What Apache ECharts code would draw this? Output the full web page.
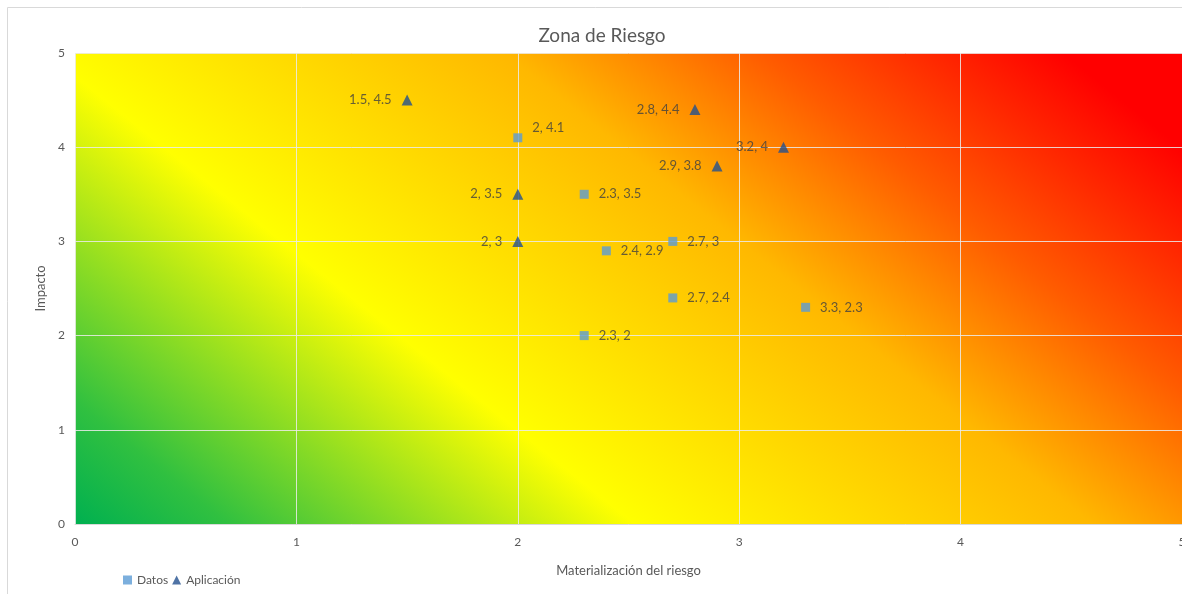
<!DOCTYPE html>
<html>
<head>
<meta charset="utf-8">
<script src="https://cdn.jsdelivr.net/npm/echarts@6/dist/echarts.min.js"></script>
<style>html,body{margin:0;padding:0;background:#fff;}#c{width:1182px;height:594px;}</style>
</head>
<body>
<div id="c"></div>
<script>
var title = 'Zona de Riesgo';
var xName = 'Materialización del riesgo';
var yName = 'Impacto';
var datosX = [2, 2.3, 2.4, 2.7, 2.7, 2.3, 3.3];
var datosY = [4.1, 3.5, 2.9, 3, 2.4, 2, 2.3];
var aplX = [1.5, 2.8, 3.2, 2.9, 2, 2];
var aplY = [4.5, 4.4, 4, 3.8, 3.5, 3];

var gridL = 75, gridT = 53, gridR = 0, gridB = 70;
var W = 1182, H = 594;
var pw = W - gridL - gridR, ph = H - gridT - gridB;
var ky = 1.25;
var k = (pw + ky * ph) / (1 + ky * ky);
var bg = {
  type: 'linear', global: true,
  x: gridL, y: gridT + ph, x2: gridL + k, y2: gridT + ph - ky * k,
  colorStops: [
    {offset: 0, color: '#00b050'},
    {offset: 0.09, color: '#30c040'},
    {offset: 0.33, color: '#ffff00'},
    {offset: 0.60, color: '#ffb800'},
    {offset: 0.75, color: '#ff5c00'},
    {offset: 0.85, color: '#ff2800'},
    {offset: 0.93, color: '#ff0000'},
    {offset: 1, color: '#ff0000'}
  ]
};

function pts(xs, ys) { return xs.map(function (x, i) { return [x, ys[i]]; }); }
var datos = pts(datosX, datosY).map(function (p, i) {
  var item = {value: p};
  if (i === 0) item.label = {offset: [0, -10]};
  return item;
});
var apl = pts(aplX, aplY);
var fmt = function (p) { return p.value[0] + ', ' + p.value[1]; };
var font = 'Lato, "Open Sans", sans-serif';

var chart = echarts.init(document.getElementById('c'));
chart.setOption({
  animation: false,
  textStyle: {fontFamily: font},
  graphic: [{
    type: 'rect', shape: {x: 7.5, y: 7.5, width: 1300, height: 700},
    style: {fill: 'none', stroke: '#d9d9d9', lineWidth: 1}, silent: true, z: -10
  }],
  title: {
    text: title, left: 597, top: 21, textAlign: 'center',
    textStyle: {fontFamily: font, fontSize: 19, fontWeight: 'normal', color: '#595959'}
  },
  legend: {
    left: 118, top: 569, itemWidth: 9, itemHeight: 9, itemGap: 4,
    textStyle: {fontFamily: font, fontSize: 12, color: '#595959'},
    data: [{name: 'Datos', icon: 'rect'}, {name: 'Aplicación', icon: 'triangle'}]
  },
  grid: {
    left: gridL, top: gridT, right: gridR, bottom: gridB,
    outerBoundsMode: 'none', containLabel: false,
    show: true, backgroundColor: bg, borderWidth: 0
  },
  xAxis: {
    type: 'value', min: 0, max: 5, interval: 1,
    name: xName, nameLocation: 'middle', nameGap: 40,
    nameTextStyle: {fontFamily: font, fontSize: 13, color: '#595959'},
    axisLine: {show: true, lineStyle: {color: '#d9d9d9'}},
    axisTick: {show: false},
    axisLabel: {fontFamily: font, fontSize: 12, color: '#595959', margin: 12},
    splitLine: {show: true, lineStyle: {color: 'rgba(235,235,235,0.85)', width: 1}}
  },
  yAxis: {
    type: 'value', min: 0, max: 5, interval: 1,
    name: yName, nameLocation: 'middle', nameGap: 26,
    nameTextStyle: {fontFamily: font, fontSize: 13, color: '#595959'},
    axisLine: {show: false}, axisTick: {show: false},
    axisLabel: {fontFamily: font, fontSize: 12, color: '#595959', margin: 10},
    splitLine: {show: true, lineStyle: {color: 'rgba(235,235,235,0.85)', width: 1}}
  },
  series: [{
    name: 'Datos', type: 'scatter', symbol: 'rect', symbolSize: 9,
    itemStyle: {color: '#5b9bd5'},
    label: {show: true, position: 'right', distance: 10, formatter: fmt,
      fontFamily: font, fontSize: 13, color: '#404040'},
    data: datos
  }, {
    name: 'Aplicación', type: 'scatter', symbol: 'triangle', symbolSize: 11,
    itemStyle: {color: '#23508f'},
    label: {show: true, position: 'left', distance: 10, formatter: fmt,
      fontFamily: font, fontSize: 13, color: '#404040'},
    data: apl
  }]
});
</script>
</body>
</html>
